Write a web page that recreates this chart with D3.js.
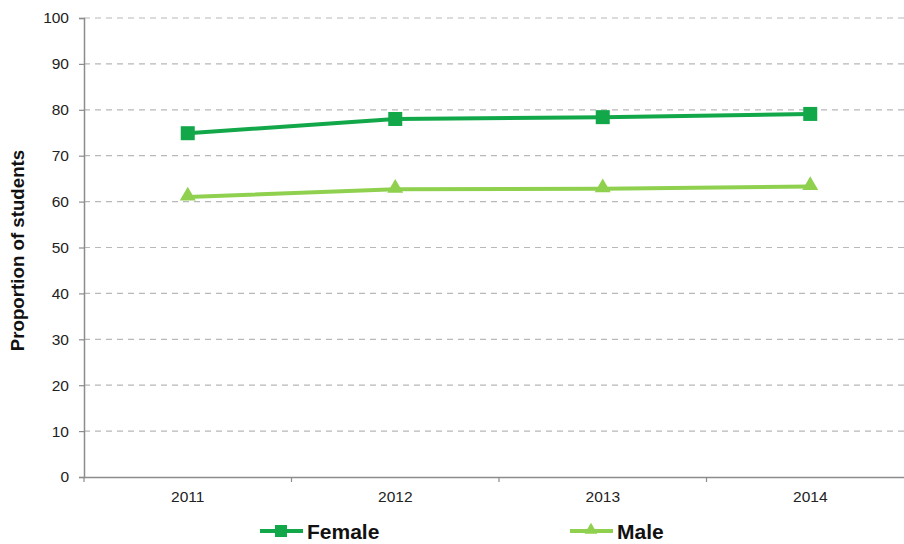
<!DOCTYPE html>
<html><head><meta charset="utf-8">
<script src="https://cdn.jsdelivr.net/npm/d3@7"></script>
<style>body{margin:0;background:#fff;}svg{display:block;}</style>
</head><body>
<svg id="c" width="904" height="544"></svg>
<script>
const years = ["2011","2012","2013","2014"];
const female = [74.9, 78.0, 78.4, 79.1];
const male = [61.0, 62.7, 62.8, 63.3];
const yTicks = [0,10,20,30,40,50,60,70,80,90,100];
const seriesNames = ["Female","Male"];
const colors = ["#12a84a","#8fd14f"];

const svg = d3.select("#c");
const L = 84, R = 914, T = 18, B = 477;
const x = d3.scaleBand().domain(years).range([L, R]);
const y = d3.scaleLinear().domain([0,100]).range([B, T]);
const font = "Liberation Sans, Arial, sans-serif";

// gridlines
svg.append("g").selectAll("line").data(yTicks.filter(d=>d>0)).join("line")
  .attr("x1", L).attr("x2", 904).attr("y1", d=>y(d)).attr("y2", d=>y(d))
  .attr("stroke", "#b8b8b8").attr("stroke-width", 1.2).attr("stroke-dasharray", "6,5");

// y axis
const ya = svg.append("g").attr("transform", `translate(${L},0)`)
  .call(d3.axisLeft(y).tickValues(yTicks).tickSize(5).tickPadding(10));
ya.select(".domain").attr("stroke", "#8c8c8c").attr("stroke-width", 1.5);
ya.selectAll(".tick line").attr("stroke", "#8c8c8c").attr("stroke-width", 1.2);
ya.selectAll("text").attr("font-family", font).attr("font-size", 15.5).attr("fill", "#222");

// x axis
const xa = svg.append("g").attr("transform", `translate(0,${B})`)
  .call(d3.axisBottom(x).tickSize(0).tickPadding(14));
xa.select(".domain").attr("stroke", "#8c8c8c").attr("stroke-width", 1.5);
xa.selectAll("text").attr("font-family", font).attr("font-size", 15.5).attr("fill", "#222");
// boundary ticks
svg.append("g").selectAll("line").data(years).join("line")
  .attr("x1", d=>x(d)).attr("x2", d=>x(d)).attr("y1", B).attr("y2", B+5)
  .attr("stroke", "#8c8c8c").attr("stroke-width", 1.2);

// y label
svg.append("text").attr("transform", `translate(24,${(T+B)/2+3}) rotate(-90)`)
  .attr("text-anchor", "middle").attr("font-family", font).attr("font-weight", "bold")
  .attr("font-size", 18.7).attr("fill", "#111").text("Proportion of students");

const cx = d => x(d) + x.bandwidth()/2;
const line = d3.line().x((d,i)=>cx(years[i])).y(d=>y(d));
const tri = d3.symbol().type(d3.symbolTriangle).size(110);

// female
svg.append("path").datum(female).attr("d", line).attr("fill","none")
  .attr("stroke", colors[0]).attr("stroke-width", 4);
svg.append("g").selectAll("rect").data(female).join("rect")
  .attr("x", (d,i)=>cx(years[i])-7).attr("y", d=>y(d)-7).attr("width",14).attr("height",14)
  .attr("fill", colors[0]);
// male
svg.append("path").datum(male).attr("d", line).attr("fill","none")
  .attr("stroke", colors[1]).attr("stroke-width", 4);
svg.append("g").selectAll("path").data(male).join("path")
  .attr("transform", (d,i)=>`translate(${cx(years[i])},${y(d)-1})`).attr("d", tri)
  .attr("fill", colors[1]);

// legend
const leg = svg.append("g");
const lx = [260, 570];
seriesNames.forEach((n,i)=>{
  const g = leg.append("g").attr("transform", `translate(${lx[i]},531)`);
  g.append("line").attr("x1",0).attr("x2",43).attr("y1",0).attr("y2",0)
    .attr("stroke", colors[i]).attr("stroke-width", 4);
  if(i===0) g.append("rect").attr("x",15).attr("y",-6).attr("width",12).attr("height",12).attr("fill",colors[i]);
  else g.append("path").attr("transform","translate(21,-1)").attr("d", d3.symbol().type(d3.symbolTriangle).size(70)).attr("fill",colors[i]);
  g.append("text").attr("x",47).attr("y",7.5).attr("font-family",font).attr("font-weight","bold")
    .attr("font-size",21).attr("fill","#111").text(n);
});
</script>
</body></html>
